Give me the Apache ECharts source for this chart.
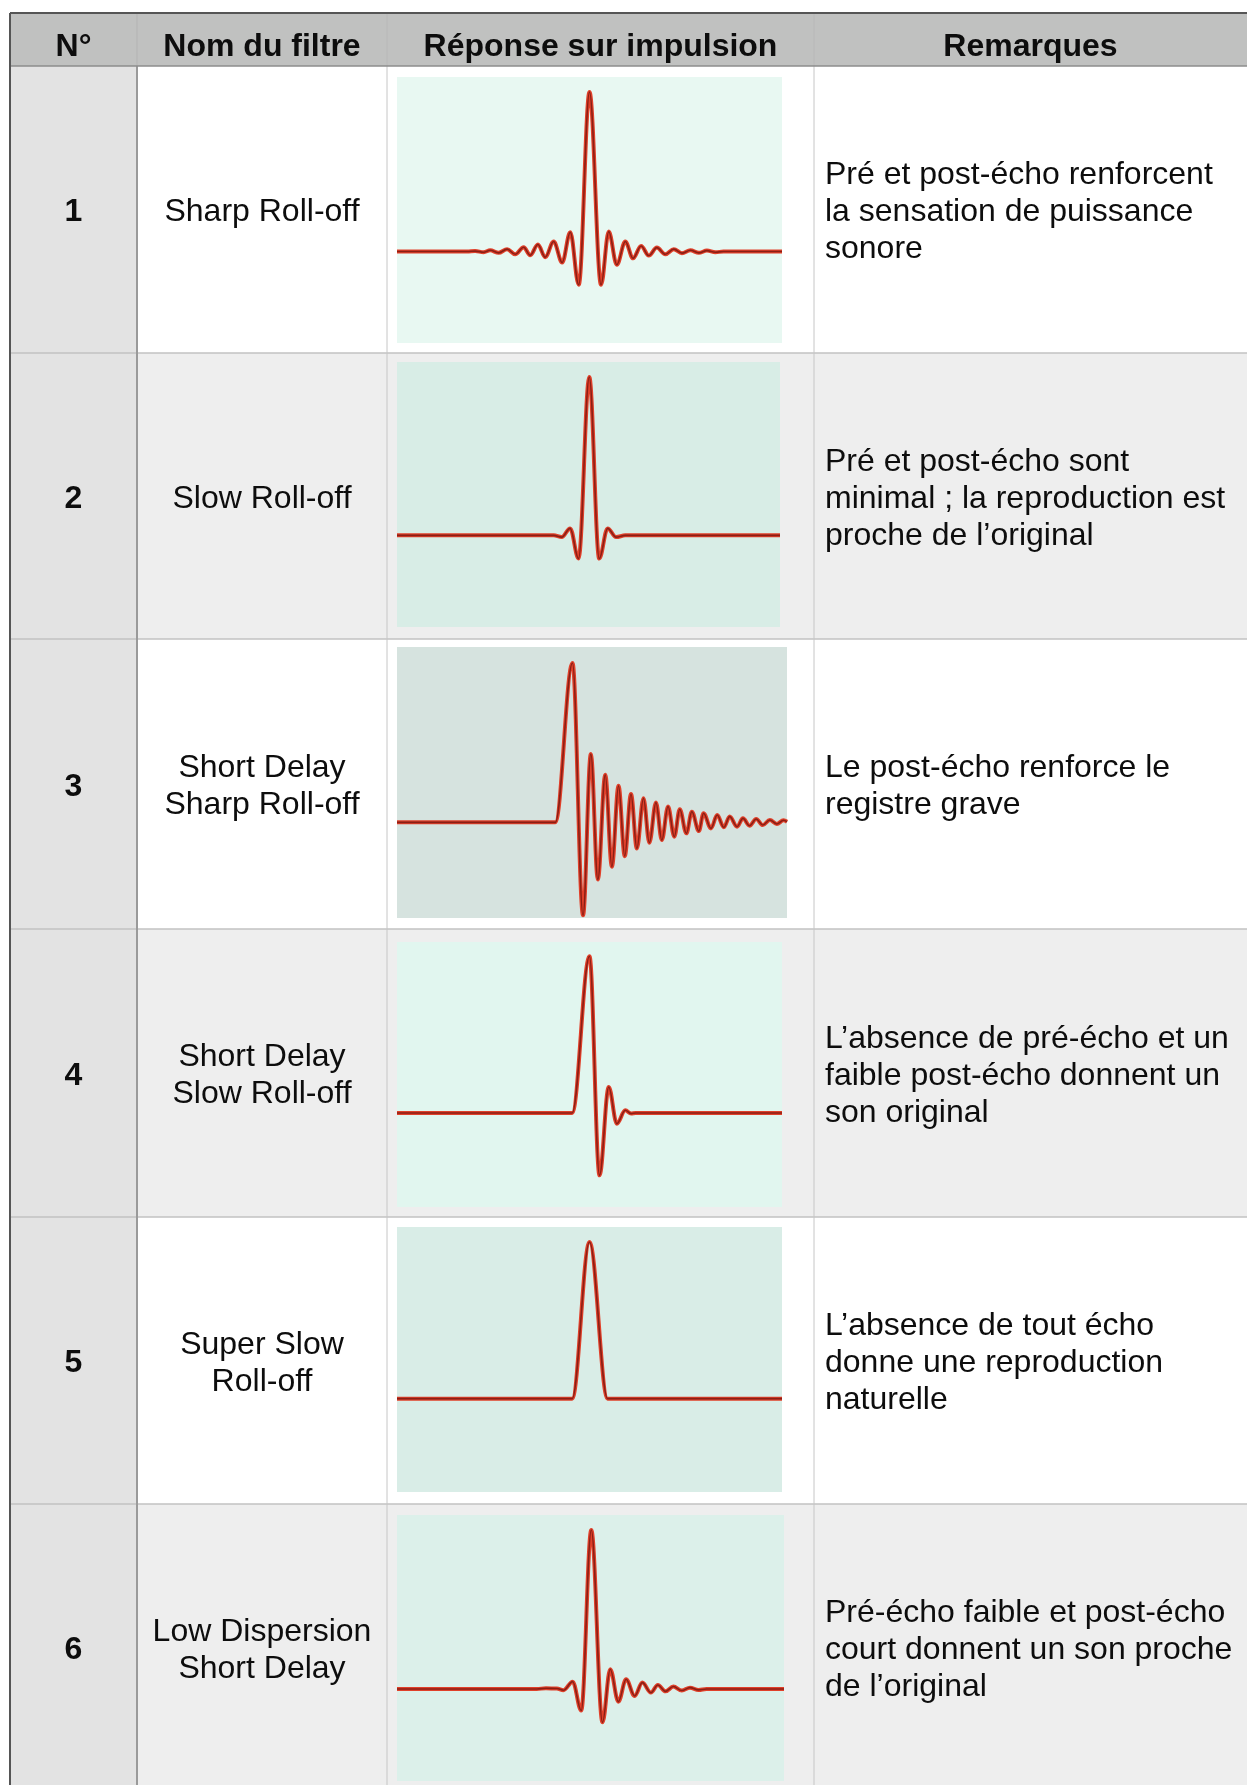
<!DOCTYPE html>
<html>
<head>
<meta charset="utf-8">
<title>Réponse sur impulsion des filtres</title>
<script src="https://cdn.jsdelivr.net/npm/echarts@6/dist/echarts.min.js"></script>
<style>
    html, body { margin: 0; padding: 0; background: #fff; }
    #main { width: 1247px; height: 1785px; }
</style>
</head>
<body>
<div id="main"></div>
<script>
// table content
var headers = ['N°', 'Nom du filtre', 'Réponse sur impulsion', 'Remarques'];
var numbers = ['1', '2', '3', '4', '5', '6'];
var filterNames = [
    'Sharp Roll-off',
    'Slow Roll-off',
    'Short Delay\nSharp Roll-off',
    'Short Delay\nSlow Roll-off',
    'Super Slow\nRoll-off',
    'Low Dispersion\nShort Delay'
];
var remarks = [
    'Pré et post-écho renforcent\nla sensation de puissance\nsonore',
    'Pré et post-écho sont\nminimal ; la reproduction est\nproche de l’original',
    'Le post-écho renforce le\nregistre grave',
    'L’absence de pré-écho et un\nfaible post-écho donnent un\nson original',
    'L’absence de tout écho\ndonne une reproduction\nnaturelle',
    'Pré-écho faible et post-écho\ncourt donnent un son proche\nde l’original'
];

// impulse responses: [position 0..100, amplitude (peak = 1)]
var sharpRollOff = [[0,0],[18.2,0],[20.3,0.003],[22.5,-0.004],[24.2,0.008],[26.4,-0.008],[28.6,0.015],[30.7,-0.017],
    [32.9,0.027],[34.6,-0.023],[36.6,0.044],[38.5,-0.035],[40.7,0.063],[42.9,-0.069],[45.0,0.121],[47.2,-0.208],
    [50.0,1.0],[53.0,-0.208],[55.0,0.125],[57.1,-0.083],[59.3,0.063],[61.3,-0.042],[63.4,0.035],[65.4,-0.025],
    [67.5,0.025],[69.7,-0.017],[71.9,0.015],[74.0,-0.010],[76.2,0.008],[78.4,-0.008],[80.5,0.006],[82.7,-0.004],
    [84.8,0],[100,0]];
var slowRollOff = [[0,0],[40.9,0],[43.0,-0.011],[45.2,0.044],[47.4,-0.147],[50.2,1.0],[52.8,-0.147],[55.0,0.044],
    [57.2,-0.011],[59.6,0],[100,0]];
var shortDelaySharp = [[0,0],[40.6,0],[45.0,1.0],[47.7,-0.583],[49.7,0.428],[51.5,-0.358],[53.4,0.298],[55.1,-0.279],
    [56.8,0.229],[58.4,-0.212],[60.0,0.178],[61.5,-0.164],[63.2,0.151],[64.7,-0.128],[66.4,0.124],[67.9,-0.111],
    [69.5,0.099],[71.1,-0.090],[72.5,0.082],[74.2,-0.069],[75.6,0.067],[77.4,-0.055],[78.6,0.057],[80.5,-0.038],
    [82.1,0.046],[83.8,-0.031],[85.3,0.036],[87.2,-0.027],[88.7,0.025],[90.4,-0.021],[92.1,0.021],[93.8,-0.017],
    [95.6,0.015],[97.4,-0.010],[99.1,0.013],[100,0.004]];
var shortDelaySlow = [[0,0],[45.5,0],[50.0,1.0],[52.6,-0.398],[55.0,0.166],[57.1,-0.068],[59.3,0.017],[60.8,-0.004],
    [62.0,0],[100,0]];
var superSlow = [[0,0],[45.5,0],[50.0,1.0],[54.7,0],[100,0]];
var lowDispersion = [[0,0],[36.1,0],[38.5,0.004],[41.3,0.003],[43.0,-0.008],[45.4,0.046],[47.6,-0.136],[50.2,1.0],
    [53.1,-0.210],[55.1,0.124],[57.2,-0.080],[59.2,0.061],[61.4,-0.044],[63.4,0.040],[65.6,-0.023],[67.4,0.025],
    [69.4,-0.015],[71.4,0.015],[73.6,-0.010],[75.7,0.008],[77.9,-0.006],[80.0,0],[100,0]];

var responses = [sharpRollOff, slowRollOff, shortDelaySharp, shortDelaySlow, superSlow, lowDispersion];

// layout
var colX = [10, 137, 387, 814, 1247];
var headerTop = 13, headerBottom = 66;
var rowY = [66, 353, 639, 929, 1217, 1504, 1791];
var plotBoxes = [
    [397, 77, 385, 266],
    [397, 362, 383, 265],
    [397, 647, 390, 271],
    [397, 942, 385, 265],
    [397, 1227, 385, 265],
    [397, 1515, 387, 266]
];
var plotBg = ['#e8f8f2', '#d8ede6', '#d6e3df', '#e1f6ef', '#d9ede7', '#dcf0ea'];
var yRanges = [[-0.573, 1.094], [-0.579, 1.095], [-0.60, 1.10], [-0.60, 1.091], [-0.596, 1.096], [-0.579, 1.094]];

var fontFamily = '"Liberation Sans", Arial, Helvetica, sans-serif';

var myChart = echarts.init(document.getElementById('main'));

var graphics = [];

function rect(x, y, w, h, fill) {
    graphics.push({type: 'rect', silent: true, shape: {x: x, y: y, width: w, height: h}, style: {fill: fill}});
}
function line(x1, y1, x2, y2, stroke, width) {
    graphics.push({type: 'line', silent: true, shape: {x1: x1, y1: y1, x2: x2, y2: y2},
        style: {stroke: stroke, lineWidth: width}});
}
function text(x, y, str, font, align) {
    graphics.push({type: 'text', silent: true, x: x, y: y,
        style: {text: str, font: font, fill: '#0d0d0d', lineHeight: 37,
            align: align, textAlign: align, verticalAlign: 'middle', textVerticalAlign: 'middle'}});
}

// backgrounds
rect(colX[0], headerTop, colX[4] - colX[0], headerBottom - headerTop, '#c0c1c0');
for (var r = 0; r < 6; r++) {
    rect(colX[1], rowY[r], colX[4] - colX[1], rowY[r + 1] - rowY[r], r % 2 === 1 ? '#eeeeee' : '#ffffff');
}
rect(colX[0], headerBottom, colX[1] - colX[0], rowY[6] - headerBottom, '#e3e3e3');
for (var p = 0; p < plotBoxes.length; p++) {
    var b = plotBoxes[p];
    rect(b[0], b[1], b[2], b[3], plotBg[p]);
}

// grid lines
for (var r = 1; r < 6; r++) {
    line(colX[0], rowY[r], colX[4], rowY[r], '#c2c2c2', 1.5);
}
line(colX[2], headerBottom, colX[2], rowY[6], '#c6c6c6', 1);
line(colX[3], headerBottom, colX[3], rowY[6], '#c6c6c6', 1);
line(colX[1], headerBottom, colX[1], rowY[6], '#9a9a9a', 2);
line(colX[1], headerTop, colX[1], headerBottom, '#b3b3b3', 1);
line(colX[2], headerTop, colX[2], headerBottom, '#b8b8b8', 1);
line(colX[3], headerTop, colX[3], headerBottom, '#b8b8b8', 1);
line(colX[0], headerBottom, colX[4], headerBottom, '#8c8c8c', 1.5);
line(colX[0], headerTop, colX[4], headerTop, '#555555', 2);
line(colX[0], headerTop, colX[0], rowY[6], '#555555', 2);

// texts
for (var c = 0; c < headers.length; c++) {
    text((colX[c] + colX[c + 1]) / 2, 47, headers[c], 'bold 32px ' + fontFamily, 'center');
}
for (var r = 0; r < 6; r++) {
    var cy = (rowY[r] + rowY[r + 1]) / 2 + 3;
    text((colX[0] + colX[1]) / 2, cy, numbers[r], 'bold 32px ' + fontFamily, 'center');
    text((colX[1] + colX[2]) / 2, cy, filterNames[r], '32px ' + fontFamily, 'center');
    text(colX[3] + 11, cy, remarks[r], '32px ' + fontFamily, 'left');
}

var grids = [], xAxes = [], yAxes = [], series = [];
for (var i = 0; i < responses.length; i++) {
    var box = plotBoxes[i];
    grids.push({left: box[0], top: box[1], width: box[2], height: box[3], containLabel: false});
    xAxes.push({type: 'value', gridIndex: i, min: 0, max: 100, show: false});
    yAxes.push({type: 'value', gridIndex: i, min: yRanges[i][0], max: yRanges[i][1], show: false});
    series.push({
        type: 'line', xAxisIndex: i, yAxisIndex: i, data: responses[i],
        showSymbol: false, symbol: 'none', smooth: 0.36, smoothMonotone: 'x', silent: true, z: 3,
        lineStyle: {color: '#e0402a', width: 4}
    });
    series.push({
        type: 'line', xAxisIndex: i, yAxisIndex: i, data: responses[i],
        showSymbol: false, symbol: 'none', smooth: 0.36, smoothMonotone: 'x', silent: true, z: 4,
        lineStyle: {color: '#8a1f15', width: 1.6}
    });
}

var option = {
    animation: false,
    backgroundColor: '#ffffff',
    graphic: {elements: graphics},
    grid: grids,
    xAxis: xAxes,
    yAxis: yAxes,
    series: series
};

myChart.setOption(option);
</script>
</body>
</html>
